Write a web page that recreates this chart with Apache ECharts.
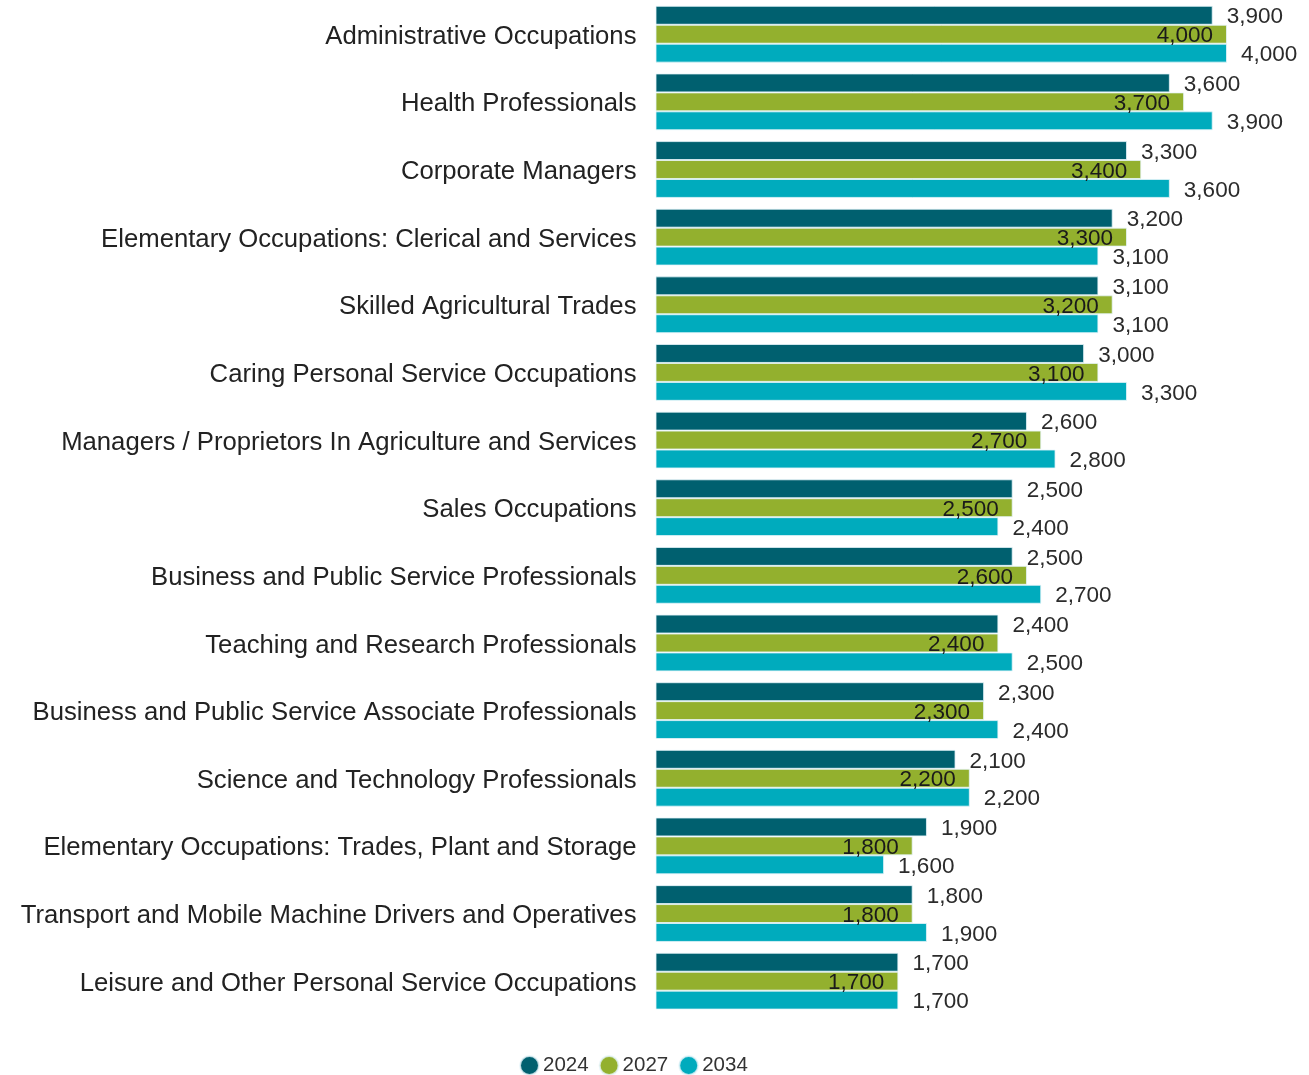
<!DOCTYPE html>
<html>
<head>
<meta charset="utf-8">
<script src="https://cdn.jsdelivr.net/npm/echarts@6/dist/echarts.min.js"></script>
<style>html,body{margin:0;padding:0;background:#fff}#c{width:1309px;height:1075px}</style>
</head>
<body>
<div id="c"></div>
<script>
const categories = [
  "Administrative Occupations",
  "Health Professionals",
  "Corporate Managers",
  "Elementary Occupations: Clerical and Services",
  "Skilled Agricultural Trades",
  "Caring Personal Service Occupations",
  "Managers / Proprietors In Agriculture and Services",
  "Sales Occupations",
  "Business and Public Service Professionals",
  "Teaching and Research Professionals",
  "Business and Public Service Associate Professionals",
  "Science and Technology Professionals",
  "Elementary Occupations: Trades, Plant and Storage",
  "Transport and Mobile Machine Drivers and Operatives",
  "Leisure and Other Personal Service Occupations"
];
const seriesNames = ["2024", "2027", "2034"];
const values2024 = [3900, 3600, 3300, 3200, 3100, 3000, 2600, 2500, 2500, 2400, 2300, 2100, 1900, 1800, 1700];
const values2027 = [4000, 3700, 3400, 3300, 3200, 3100, 2700, 2500, 2600, 2400, 2300, 2200, 1800, 1800, 1700];
const values2034 = [4000, 3900, 3600, 3100, 3100, 3300, 2800, 2400, 2700, 2500, 2400, 2200, 1600, 1900, 1700];
const colors = ["#00606f", "#93b02e", "#00abbd"];

const fmt = p => p.value.toLocaleString('en-US');
const font = '"Liberation Sans", Arial, sans-serif';

function mk(name, data, color, inside) {
  return {
    name: name,
    type: 'bar',
    data: data,
    barGap: 0,
    barCategoryGap: '16%',
    itemStyle: { color: color, borderColor: 'rgba(230,245,250,0.8)', borderWidth: 1 },
    label: {
      show: true,
      position: inside ? 'insideRight' : 'right',
      distance: 14,
      offset: [0, 2],
      formatter: fmt,
      fontFamily: font,
      fontSize: 22.5,
      color: inside ? '#1a1a1a' : '#2b2b2b'
    }
  };
}

const chart = echarts.init(document.getElementById('c'), null, { renderer: 'canvas' });
chart.setOption({
  animation: false,
  color: colors,
  grid: { left: 655.5, right: 82, top: 0.4, bottom: 60, containLabel: false },
  xAxis: { type: 'value', min: 0, max: 4000, show: false },
  yAxis: {
    type: 'category',
    data: categories,
    inverse: true,
    axisLine: { show: false },
    axisTick: { show: false },
    axisLabel: {
      margin: 19,
      formatter: v => '{a|' + v + '}',
      rich: { a: { fontFamily: font, fontSize: 25.7, color: '#222', padding: [5, 0, 0, 0] } }
    }
  },
  legend: {
    top: 1050,
    left: 514,
    icon: 'circle',
    itemWidth: 19,
    itemHeight: 19,
    itemGap: 10,
    textStyle: { fontFamily: font, fontSize: 20.5, color: '#333', padding: [0, 0, 0, -1] },
    data: seriesNames
  },
  series: [
    mk(seriesNames[0], values2024, colors[0], false),
    mk(seriesNames[1], values2027, colors[1], true),
    mk(seriesNames[2], values2034, colors[2], false)
  ]
});
</script>
</body>
</html>
